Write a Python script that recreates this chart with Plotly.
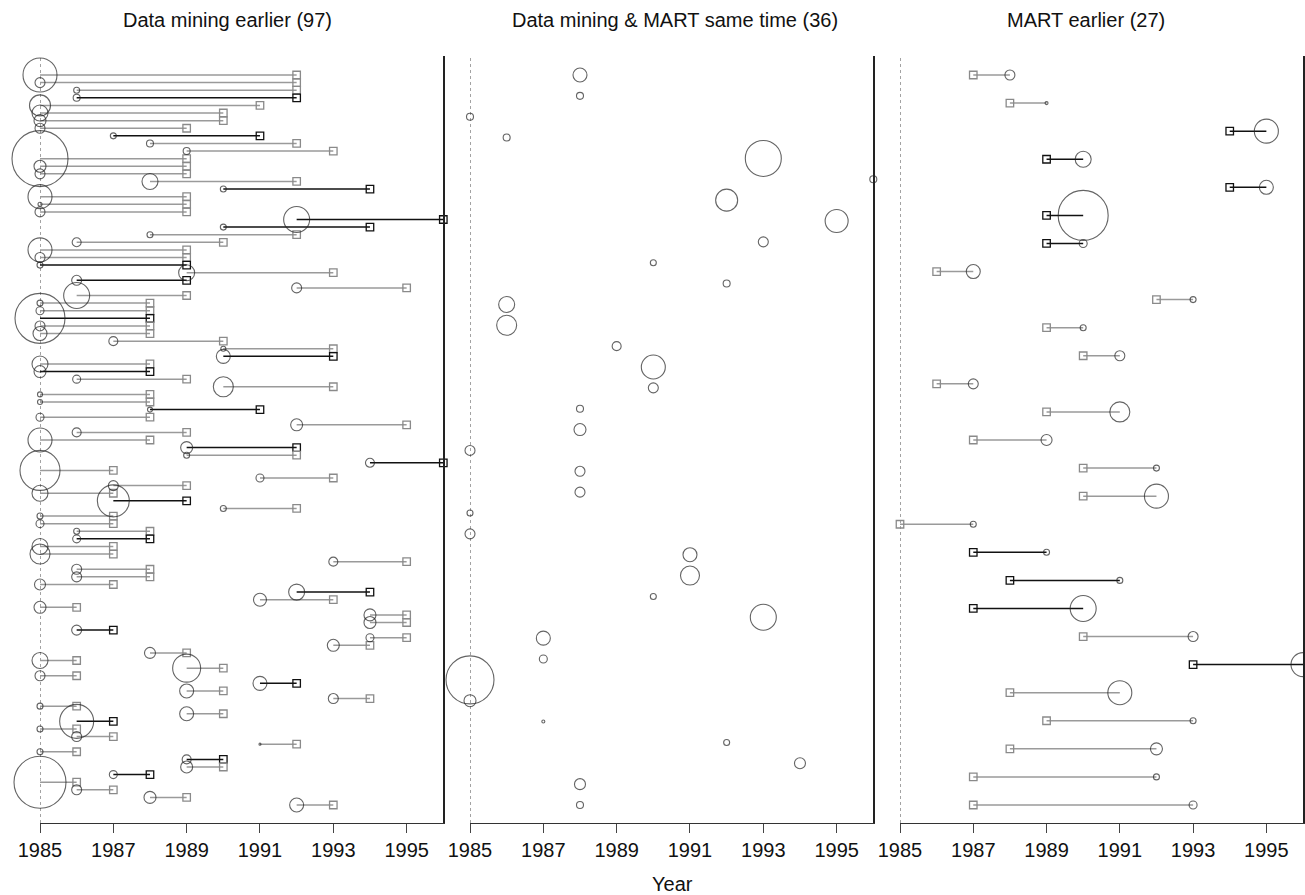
import plotly.graph_objects as go

# ---------------- data ----------------
# Panel 1: Data mining earlier (circle = data mining year, square = MART year)
p1_dm = [1985, 1985, 1986, 1986, 1985, 1985, 1985, 1985, 1987, 1988,
         1989, 1985, 1985, 1985, 1988, 1990, 1985, 1985, 1985, 1992,
         1990, 1988, 1986, 1985, 1985, 1985, 1989, 1986, 1992, 1986,
         1985, 1985, 1985, 1985, 1985, 1987, 1990, 1990, 1985, 1985,
         1986, 1990, 1985, 1985, 1988, 1985, 1992, 1986, 1985, 1989,
         1989, 1994, 1985, 1991, 1987, 1985, 1987, 1990, 1985, 1985,
         1986, 1986, 1985, 1985, 1993, 1986, 1986, 1985, 1992, 1991,
         1985, 1994, 1994, 1986, 1994, 1993, 1988, 1985, 1989, 1985,
         1991, 1989, 1993, 1985, 1989, 1986, 1985, 1986, 1991, 1985,
         1989, 1989, 1987, 1985, 1986, 1988, 1992]
p1_mart = [1992, 1992, 1992, 1992, 1991, 1990, 1990, 1989, 1991, 1992,
           1993, 1989, 1989, 1989, 1992, 1994, 1989, 1989, 1989, 1996,
           1994, 1992, 1990, 1989, 1989, 1989, 1993, 1989, 1995, 1989,
           1988, 1988, 1988, 1988, 1988, 1990, 1993, 1993, 1988, 1988,
           1989, 1993, 1988, 1988, 1991, 1988, 1995, 1989, 1988, 1992,
           1992, 1996, 1987, 1993, 1989, 1987, 1989, 1992, 1987, 1987,
           1988, 1988, 1987, 1987, 1995, 1988, 1988, 1987, 1994, 1993,
           1986, 1995, 1995, 1987, 1995, 1994, 1989, 1986, 1990, 1986,
           1992, 1990, 1994, 1986, 1990, 1987, 1986, 1987, 1992, 1986,
           1990, 1990, 1988, 1986, 1987, 1989, 1993]
p1_weight = [17, 5, 3, 3.5, 10.5, 8, 6, 5, 3, 3.5,
             3.5, 28, 6, 5, 8, 3, 12, 2, 5, 13,
             3, 3, 4.5, 12, 5, 3, 8, 5, 5, 13,
             3, 4, 25, 5, 7, 4.5, 2.5, 7, 8, 6,
             4, 10, 2.5, 2.5, 2.5, 4, 6, 4.5, 12, 6,
             3, 4.5, 20, 4, 5, 8, 16, 3, 3, 4,
             3, 4, 8, 10, 4.5, 5, 5, 5.5, 8, 6.5,
             6, 6, 6, 5, 4, 6, 5.5, 8, 14, 5,
             7, 7, 5, 3, 7, 17, 3, 5, 1, 3,
             4.5, 6, 4, 26, 5, 6, 7]
p1_dark = [0, 0, 0, 1, 0, 0, 0, 0, 1, 0,
           0, 0, 0, 0, 0, 1, 0, 0, 0, 1,
           1, 0, 0, 0, 0, 1, 0, 1, 0, 0,
           0, 0, 1, 0, 0, 0, 0, 1, 0, 1,
           0, 0, 0, 0, 1, 0, 0, 0, 0, 1,
           0, 1, 0, 0, 0, 0, 1, 0, 0, 0,
           0, 1, 0, 0, 0, 0, 0, 0, 1, 0,
           0, 0, 0, 1, 0, 0, 0, 0, 0, 0,
           1, 0, 0, 0, 0, 1, 0, 0, 0, 0,
           1, 0, 1, 0, 0, 0, 0]

# Panel 2: same time (circle only)
p2_year = [1988, 1988, 1985, 1986, 1993, 1996, 1992, 1995, 1993, 1990,
           1992, 1986, 1986, 1989, 1990, 1990, 1988, 1988, 1985, 1988,
           1988, 1985, 1985, 1991, 1991, 1990, 1993, 1987, 1987, 1985,
           1985, 1987, 1992, 1994, 1988, 1988]
p2_weight = [7, 3.5, 3.5, 3.5, 18, 3.5, 11, 11.5, 5, 3,
             3.5, 8, 10, 4.5, 12, 5, 3.5, 6, 5, 5,
             5, 3, 5, 7, 9.5, 3, 13, 7, 4, 24,
             6, 1.5, 3, 5.5, 5.5, 3.5]

# Panel 3: MART earlier (square = MART year, circle = data mining year)
p3_mart = [1987, 1988, 1994, 1989, 1994, 1989, 1989, 1986, 1992, 1989,
           1990, 1986, 1989, 1987, 1990, 1990, 1985, 1987, 1988, 1987,
           1990, 1993, 1988, 1989, 1988, 1987, 1987]
p3_dm = [1988, 1989, 1995, 1990, 1995, 1990, 1990, 1987, 1993, 1990,
         1991, 1987, 1991, 1989, 1992, 1992, 1987, 1989, 1991, 1990,
         1993, 1996, 1991, 1993, 1992, 1992, 1993]
p3_weight = [5, 1.5, 12, 8, 7, 25, 4, 7, 3, 3,
             5, 5, 10, 5.5, 3, 12, 3, 3, 3, 13,
             5, 12, 12, 3, 6, 3, 4]
p3_dark = [0, 0, 1, 1, 1, 1, 1, 0, 0, 0,
           0, 0, 0, 0, 0, 0, 0, 1, 1, 1,
           0, 1, 0, 0, 0, 0, 0]

titles = ["Data mining earlier (97)", "Data mining & MART same time (36)", "MART earlier (27)"]
tick_years = [1985, 1987, 1989, 1991, 1993, 1995]

# ---------------- layout geometry ----------------
W, H = 1305, 895
ML, MR, MT, MB = 40, 2, 56, 72
pw = W - ML - MR
ph = H - MT - MB
doms = [(0.0, 403.3 / pw), ((470 - ML) / pw, (873.3 - ML) / pw), ((900 - ML) / pw, 1.0)]
title_px = [228, 675, 1086]
ROW_TOP_PX, ROW_BOT_PX = 75, 805

BLACK = "#111111"
GRAY = "#9a9a9a"
SQ_GRAY = "#8a8a8a"
FONT = "Liberation Sans, Arial, sans-serif"

fig = go.Figure()


def add_panel(k, circ_x, weights, sq_x=None, dark=None):
    xa = "x" if k == 1 else f"x{k}"
    ya = "y" if k == 1 else f"y{k}"
    n = len(circ_x)
    rows = list(range(n))
    if sq_x is not None:
        for flag, col in [(0, GRAY), (1, BLACK)]:
            xs, ys = [], []
            for i in rows:
                if dark[i] == flag:
                    xs += [circ_x[i], sq_x[i], None]
                    ys += [i, i, None]
            fig.add_trace(go.Scatter(x=xs, y=ys, mode="lines", xaxis=xa, yaxis=ya,
                                     line=dict(color=col, width=1.5),
                                     cliponaxis=False, hoverinfo="skip", showlegend=False))
        fig.add_trace(go.Scatter(x=sq_x, y=rows, mode="markers", xaxis=xa, yaxis=ya,
                                 marker=dict(symbol="square-open", size=7.5,
                                             color=[BLACK if d else SQ_GRAY for d in dark],
                                             line=dict(width=1.3)),
                                 cliponaxis=False, showlegend=False))
    fig.add_trace(go.Scatter(x=circ_x, y=rows, mode="markers", xaxis=xa, yaxis=ya,
                             marker=dict(symbol="circle-open", size=[2 * w for w in weights],
                                         color="#222222", line=dict(width=1.1)),
                             cliponaxis=False, showlegend=False))
    s = (ROW_BOT_PX - ROW_TOP_PX) / (n - 1)
    ytop = -(ROW_TOP_PX - MT) / s
    ybot = (n - 1) + ((H - MB) - ROW_BOT_PX) / s
    yname = "yaxis" if k == 1 else f"yaxis{k}"
    xname = "xaxis" if k == 1 else f"xaxis{k}"
    fig.layout[xname] = dict(domain=list(doms[k - 1]), range=[1985, 1996], anchor=ya,
                             tickvals=tick_years, ticks="outside", ticklen=9, tickwidth=1.2,
                             tickcolor="#444444", showline=True, linecolor="#333333", linewidth=1.3,
                             showgrid=False, zeroline=False,
                             tickfont=dict(family=FONT, size=20, color="#111111"))
    fig.layout[yname] = dict(domain=[0, 1], range=[ybot, ytop], anchor=xa, side="right",
                             showline=True, linecolor="#222222", linewidth=1.5,
                             showticklabels=False, ticks="", showgrid=False, zeroline=False)
    fig.add_shape(type="line", xref=xa, yref=f"{ya} domain", x0=1985, x1=1985, y0=0, y1=1,
                  line=dict(color="#666666", width=1.2, dash="dot"), layer="below")


add_panel(1, p1_dm, p1_weight, p1_mart, p1_dark)
add_panel(2, p2_year, p2_weight)
add_panel(3, p3_dm, p3_weight, p3_mart, p3_dark)

for k in range(3):
    fig.add_annotation(text=titles[k], xref="paper", yref="paper",
                       x=(title_px[k] - ML) / pw, y=((H - MB) - 20) / ph,
                       xanchor="center", yanchor="middle", showarrow=False,
                       font=dict(family=FONT, size=20, color="#111111"))
fig.add_annotation(text="Year", xref="paper", yref="paper",
                   x=(672 - ML) / pw, y=((H - MB) - 884) / ph,
                   xanchor="center", yanchor="middle", showarrow=False,
                   font=dict(family=FONT, size=20, color="#111111"))

fig.update_layout(width=W, height=H, margin=dict(l=ML, r=MR, t=MT, b=MB),
                  paper_bgcolor="white", plot_bgcolor="white", showlegend=False)

fig.write_html("out.html")
